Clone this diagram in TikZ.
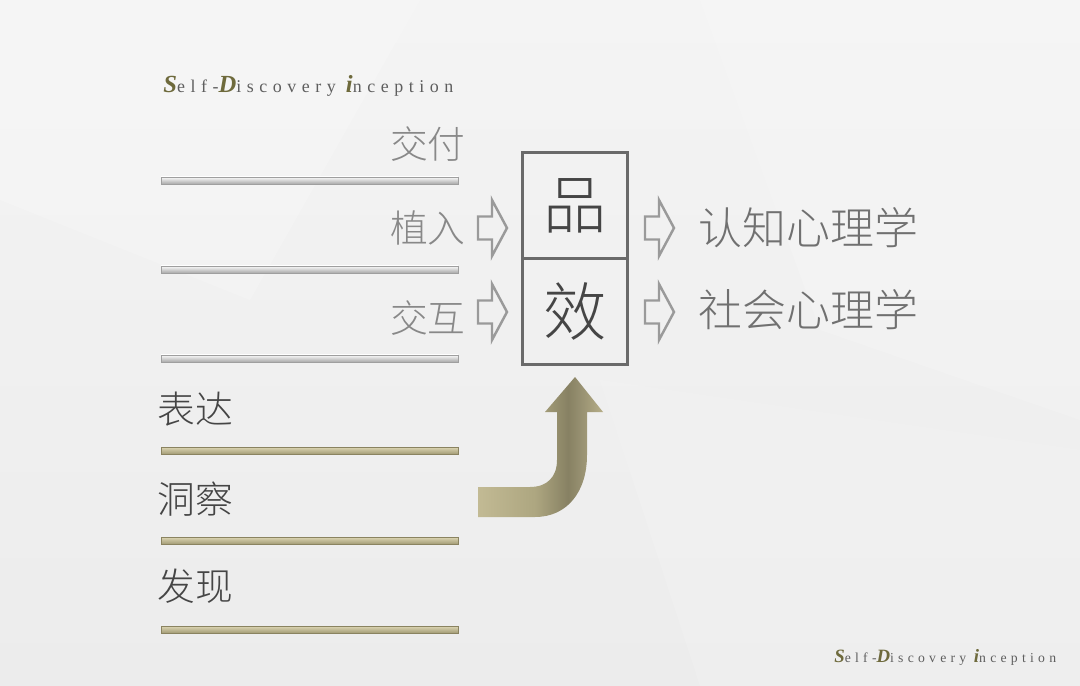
\documentclass[tikz,border=0pt]{standalone}
\usepackage{fontspec}
\setmainfont{Liberation Serif}
\newfontfamily\cjk{Noto Sans CJK SC Light}
\newfontfamily\ttl[LetterSpace=31]{Liberation Serif}
\definecolor{bgtop}{HTML}{F4F4F4}
\definecolor{bgbot}{HTML}{ECECEC}
\definecolor{titlegold}{HTML}{6E6A3C}
\definecolor{titlegray}{HTML}{5E5E5E}
\definecolor{lgray}{HTML}{888888}
\definecolor{rgray}{HTML}{707070}
\definecolor{dgray}{HTML}{454545}
\definecolor{boxgray}{HTML}{6A6A6A}
\definecolor{arrgray}{HTML}{9A9A9A}
\definecolor{goldA}{HTML}{C2BA94}
\definecolor{goldM}{HTML}{ADA680}
\definecolor{goldB}{HTML}{878163}
\definecolor{goldB2}{HTML}{9A9373}
\definecolor{goldC}{HTML}{B6AE88}
\definecolor{silverT}{HTML}{FAFAFA}
\definecolor{silverB}{HTML}{A8A8A8}
\definecolor{goldT}{HTML}{DDD6B4}
\definecolor{goldBt}{HTML}{A39C76}
\definecolor{goldE}{HTML}{8A8360}
\pgfdeclarehorizontalshading{bentsh}{100bp}{color(0bp)=(goldA); color(25bp)=(goldA); color(48bp)=(goldM); color(61bp)=(goldB); color(67bp)=(goldB2); color(75bp)=(goldC); color(100bp)=(goldC)}
\newcommand{\tcapA}[2]{{\color{titlegold}\fontsize{#2}{#2}\selectfont\bfseries\itshape #1}}
\tikzset{
  lbl/.style={font=\cjk\fontsize{21.5}{22}\selectfont, inner sep=0pt, text=lgray},
  dlbl/.style={font=\cjk\fontsize{21.5}{22}\selectfont, inner sep=0pt, text=dgray},
  rlbl/.style={font=\cjk\fontsize{25}{26}\selectfont, inner sep=0pt, text=rgray},
  cell/.style={draw=boxgray, line width=1.7pt, minimum width=2.12cm, minimum height=2.12cm, inner sep=0pt, font=\cjk\fontsize{36}{37}\selectfont, text=dgray},
  silverbar/.style={top color=silverT, bottom color=silverB, draw=gray!75, line width=0.4pt},
  goldbar/.style={top color=goldT, bottom color=goldBt, draw=goldE, line width=0.4pt},
  harrow/.style={draw=arrgray, line width=1.4pt, line join=miter},
  hollow/.pic={\draw[harrow] (0,-11.5) -- (14,-11.5) -- (14,-28) -- (29,0) -- (14,28) -- (14,11.5) -- (0,11.5) -- cycle;}
}
\begin{document}
\begin{tikzpicture}[x=0.02cm,y=-0.02cm]
\useasboundingbox (0,0) rectangle (1080,686);
\shade[top color=bgtop, bottom color=bgbot] (0,0) rectangle (1080,686);
\fill[white,opacity=0.18] (0,0) -- (420,0) -- (250,300) -- (0,200) -- cycle;
\fill[white,opacity=0.15] (700,0) -- (1080,0) -- (1080,420) -- (820,330) -- cycle;
\fill[white,opacity=0.12] (600,380) -- (1080,450) -- (1080,686) -- (700,686) -- cycle;

% titles
\node[anchor=base west, inner sep=0pt] (title) at (163,93) {\ttl\color{titlegray}\tcapA{S}{14}\fontsize{10.2}{11}\selectfont elf-\tcapA{D}{14}\fontsize{10.2}{11}\selectfont iscovery \tcapA{i}{14}\fontsize{10.2}{11}\selectfont nception};
\node[anchor=base west, inner sep=0pt] (title2) at (834,662) {\ttl\color{titlegray}\tcapA{S}{10.7}\fontsize{7.8}{8}\selectfont elf-\tcapA{D}{10.7}\fontsize{7.8}{8}\selectfont iscovery \tcapA{i}{10.7}\fontsize{7.8}{8}\selectfont nception};

% silver bars
\shade[silverbar] (161,177) rectangle (458,184);
\shade[silverbar] (161,266) rectangle (458,273);
\shade[silverbar] (161,355) rectangle (458,362);
% gold bars
\shade[goldbar] (161,447) rectangle (458,454);
\shade[goldbar] (161,537) rectangle (458,544);
\shade[goldbar] (161,626) rectangle (458,633);

% left labels
\node[lbl, anchor=east] (jiaofu) at (466,144) {交付};
\node[lbl, anchor=east] (zhiru) at (466,228) {植入};
\node[lbl, anchor=east] (jiaohu) at (466,318) {交互};
\node[dlbl, anchor=west] (biaoda) at (157,409) {表达};
\node[dlbl, anchor=west] (dongcha) at (157,499) {洞察};
\node[dlbl, anchor=west] (faxian) at (157,586) {发现};

% box
\node[cell] (pin) at (575,205.5) {品};
\node[cell] (xiao) at (575,311.5) {效};

% hollow arrows
\pic at (478,228) {hollow};
\pic at (478,312) {hollow};
\pic at (645,228) {hollow};
\pic at (645,312) {hollow};

% right labels
\node[rlbl, anchor=west] (renzhi) at (698,228) {认知心理学};
\node[rlbl, anchor=west] (shehui) at (698,310) {社会心理学};

% bent arrow
\shade[shading=bentsh]
  (478,487) -- (530,487) .. controls (547,487) and (557,477) .. (557,460)
  -- (557,412) -- (545,412) -- (575,377) -- (603,412) -- (587,412)
  -- (587,455) .. controls (587,492) and (567,517) .. (535,517)
  -- (478,517) -- cycle;
\end{tikzpicture}
\end{document}
